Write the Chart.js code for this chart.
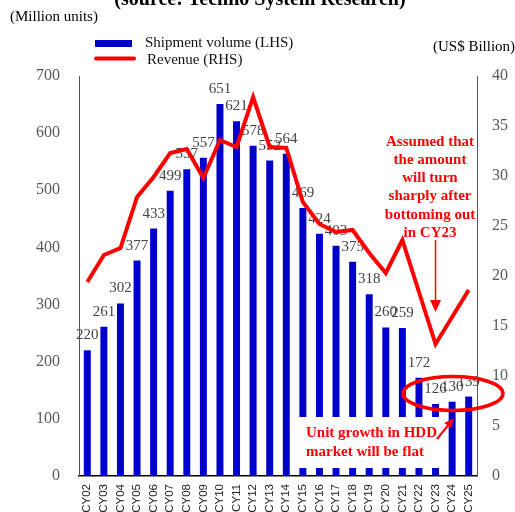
<!DOCTYPE html>
<html>
<head>
<meta charset="utf-8">
<script src="https://cdn.jsdelivr.net/npm/chart.js@4/dist/chart.umd.min.js"></script>
<style>
  html, body { margin: 0; padding: 0; background: #fff; }
</style>
</head>
<body>
<canvas id="chart" width="515" height="512"></canvas>
<script>
// HDD market: units (LHS) and revenue (RHS)
const years = ["CY02","CY03","CY04","CY05","CY06","CY07","CY08","CY09","CY10","CY11","CY12","CY13",
               "CY14","CY15","CY16","CY17","CY18","CY19","CY20","CY21","CY22","CY23","CY24","CY25"];
const shipments = [220,261,302,377,433,499,537,557,651,621,578,552,564,469,424,403,375,318,260,259,172,126,130,139];
const revenue = [19.4,22.1,22.8,27.9,29.9,32.3,32.7,29.8,33.6,32.9,37.9,32.9,32.8,27.4,25.2,24.4,24.6,22.3,20.3,23.6,18.4,13.2,15.9,18.6];
const unitTicks = { min: 0, max: 700, step: 100 };
const revTicks = { min: 0, max: 40, step: 5 };
const noteLines = ["Assumed that", "the amount", "will turn", "sharply after", "bottoming out", "in CY23"];
const flatLines = ["Unit growth in HDD", "market will be flat"];

const SERIF = "'Liberation Serif', 'Times New Roman', serif";
const RED = "#ff0000";
const BLUE = "#0000cd";

function arrowHead(ctx, x, y, angle, len, half) {
  ctx.save();
  ctx.translate(x, y);
  ctx.rotate(angle);
  ctx.beginPath();
  ctx.moveTo(0, 0);
  ctx.lineTo(-len, -half);
  ctx.lineTo(-len, half);
  ctx.closePath();
  ctx.fill();
  ctx.restore();
}

const extras = {
  id: "extras",
  // value labels go on after the bars, before the revenue line
  afterDatasetDraw(chart, args) {
    if (args.index !== 0) return;
    const ctx = chart.ctx;
    ctx.save();
    ctx.font = "15px " + SERIF;
    ctx.fillStyle = "#444";
    ctx.textAlign = "center";
    ctx.textBaseline = "alphabetic";
    args.meta.data.forEach((bar, i) => {
      ctx.fillText(String(shipments[i]), bar.x, bar.y - 11);
    });
    ctx.restore();
  },
  afterDraw(chart) {
    const ctx = chart.ctx;
    ctx.save();

    // title (runs off the top edge)
    ctx.fillStyle = "#000";
    ctx.font = "bold 20px " + SERIF;
    ctx.textAlign = "center";
    ctx.textBaseline = "alphabetic";
    ctx.fillText("(source: Techno System Research)", 260, 5);

    // axis units
    ctx.font = "15px " + SERIF;
    ctx.textBaseline = "middle";
    ctx.textAlign = "left";
    ctx.fillText("(Million units)", 10, 17);
    ctx.fillText("(US$ Billion)", 433, 47);

    // legend
    ctx.fillStyle = BLUE;
    ctx.fillRect(95, 40, 37, 7);
    ctx.strokeStyle = RED;
    ctx.lineWidth = 4;
    ctx.lineCap = "round";
    ctx.beginPath();
    ctx.moveTo(96, 58.5);
    ctx.lineTo(134, 58.5);
    ctx.stroke();
    ctx.fillStyle = "#111";
    ctx.fillText("Shipment volume (LHS)", 145, 43);
    ctx.fillText("Revenue (RHS)", 147, 60);

    // note about the CY23 bottom
    ctx.fillStyle = RED;
    ctx.font = "bold 15px " + SERIF;
    ctx.textAlign = "center";
    noteLines.forEach((t, i) => ctx.fillText(t, 430, 142 + i * 18.2));

    const xs = chart.scales.x;
    const x23 = xs.getPixelForValue(years.indexOf("CY23"));
    ctx.lineWidth = 1.5;
    ctx.lineCap = "butt";
    ctx.beginPath();
    ctx.moveTo(x23, 240);
    ctx.lineTo(x23, 302);
    ctx.stroke();
    arrowHead(ctx, x23, 312, Math.PI / 2, 12, 5.5);

    // white panel across the lower bars
    ctx.fillStyle = "#fff";
    ctx.fillRect(294, 417, 153, 51);
    ctx.fillStyle = RED;
    ctx.textAlign = "left";
    flatLines.forEach((t, i) => ctx.fillText(t, 306, 433 + i * 19));

    ctx.lineWidth = 2;
    ctx.beginPath();
    ctx.moveTo(437, 439);
    ctx.lineTo(450, 423);
    ctx.stroke();
    arrowHead(ctx, 454, 418, Math.atan2(-21, 17), 10, 4.5);

    // ring around the flat tail
    ctx.strokeStyle = RED;
    ctx.lineWidth = 3.5;
    ctx.beginPath();
    ctx.ellipse(453, 393.5, 50, 17, 0, 0, Math.PI * 2);
    ctx.stroke();

    ctx.restore();
  }
};

new Chart(document.getElementById("chart"), {
  type: "bar",
  data: {
    labels: years,
    datasets: [
      {
        label: "Shipment volume (LHS)",
        data: shipments,
        backgroundColor: BLUE,
        barPercentage: 0.42,
        categoryPercentage: 1,
        yAxisID: "y",
        order: 1
      },
      {
        type: "line",
        label: "Revenue (RHS)",
        data: revenue,
        borderColor: RED,
        borderWidth: 4,
        borderJoinStyle: "miter",
        pointRadius: 0,
        tension: 0,
        yAxisID: "y1",
        order: 0
      }
    ]
  },
  options: {
    responsive: false,
    animation: false,
    layout: { padding: { top: 76, left: 0, right: 0, bottom: 0 } },
    plugins: { legend: { display: false }, tooltip: { enabled: false } },
    scales: {
      x: {
        grid: { display: false, drawTicks: false },
        border: { display: true, color: "#000", width: 1.5 },
        ticks: {
          autoSkip: false,
          maxRotation: 90,
          minRotation: 90,
          padding: 8,
          color: "#222",
          font: { family: "'Liberation Sans', Arial, sans-serif", size: 11.5 }
        },
        afterFit(s) { s.height = 36; }
      },
      y: {
        position: "left",
        min: unitTicks.min,
        max: unitTicks.max,
        grid: { display: false, drawTicks: false },
        border: { display: true, color: "#555", width: 1 },
        ticks: {
          stepSize: unitTicks.step,
          padding: 19,
          color: "#595959",
          font: { family: SERIF, size: 16 }
        },
        afterFit(s) { s.width = 79; }
      },
      y1: {
        position: "right",
        min: revTicks.min,
        max: revTicks.max,
        grid: { display: false, drawTicks: false },
        border: { display: true, color: "#555", width: 1 },
        ticks: {
          stepSize: revTicks.step,
          padding: 15,
          color: "#595959",
          font: { family: SERIF, size: 16 }
        },
        afterFit(s) { s.width = 38; }
      }
    }
  },
  plugins: [extras]
});
</script>
</body>
</html>
